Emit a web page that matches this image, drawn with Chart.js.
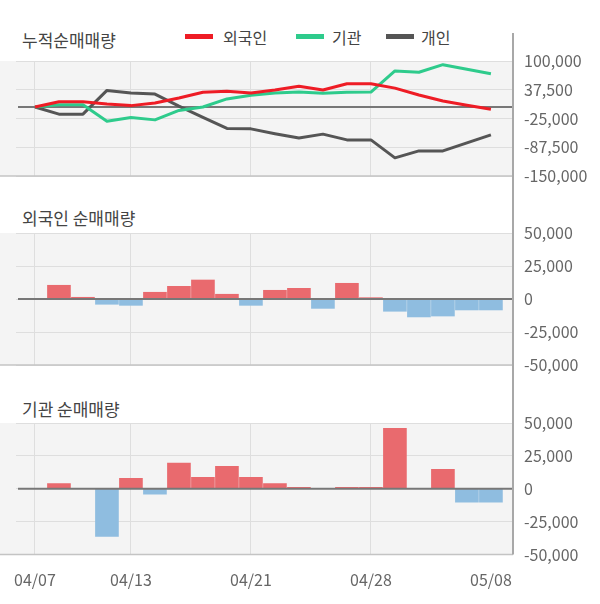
<!DOCTYPE html>
<html>
<head>
<meta charset="utf-8">
<script src="https://cdn.jsdelivr.net/npm/chart.js@4"></script>
<style>
    body { margin: 0; width: 600px; height: 604px; background: #fff; position: relative; overflow: hidden; font-family: "Noto Sans CJK KR", sans-serif; }
    canvas { position: absolute; left: 0; }
    .title { position: absolute; left: 22px; font-size: 17px; line-height: 20px; color: #444; white-space: nowrap; }
    .lg-text { position: absolute; top: 27px; font-size: 16px; line-height: 20px; color: #444; white-space: nowrap; }
    .lg-swatch { position: absolute; top: 34px; width: 28px; height: 5px; }
</style>
</head>
<body>
<div class="title" style="top:30px">누적순매매량</div>
<div class="lg-swatch" style="left:185px;background:#ee1c25"></div>
<div class="lg-text" style="left:223px">외국인</div>
<div class="lg-swatch" style="left:296px;background:#2ecb8c"></div>
<div class="lg-text" style="left:332px">기관</div>
<div class="lg-swatch" style="left:386px;background:#555555"></div>
<div class="lg-text" style="left:421px">개인</div>
<div class="title" style="top:208px">외국인 순매매량</div>
<div class="title" style="top:399px">기관 순매매량</div>

<canvas id="cumChart" width="600" height="200" style="top:0"></canvas>
<canvas id="foreignChart" width="600" height="190" style="top:200px"></canvas>
<canvas id="instChart" width="600" height="214" style="top:390px"></canvas>

<script>
const dates = ['04/07', '04/08', '04/09', '04/10', '04/13', '04/14', '04/16', '04/17', '04/20', '04/21',
               '04/22', '04/23', '04/24', '04/27', '04/28', '04/29', '05/04', '05/06', '05/07', '05/08'];
const tickIdx = [0, 4, 9, 14, 19];

// 누적 순매매량
const cumForeign = [0, 11500, 11500, 6500, 3000, 8500, 19500, 32000, 34500, 30500, 37000, 45000, 37000, 50500, 50500, 41000, 26000, 13000, 4000, -5000];
const cumInst = [0, 5000, 5000, -31000, -23000, -28000, -7500, 0, 17500, 25500, 30500, 32500, 30000, 32000, 32500, 78500, 75500, 92000, 82000, 72500];
const cumIndiv = [0, -15500, -15500, 36000, 30500, 28000, 2000, -22500, -46500, -47500, -58000, -67500, -59000, -71500, -71500, -110500, -95500, -95500, -78000, -60500];

// 일별 순매매량
const netForeign = [null, 10400, 1300, -4000, -4800, 5100, 9600, 14400, 3600, -4800, 6600, 8100, -7100, 11900, 1000, -9300, -13600, -12900, -8300, -8300];
const netInst = [null, 4000, 0, -36200, 7900, -4100, 19500, 8600, 17000, 8600, 4000, 1000, 0, 1000, 1000, 46000, 0, 14700, -10200, -10200];

const cumTicks = [100000, 37500, -25000, -87500, -150000];
const netTicks = [50000, 25000, 0, -25000, -50000];

const fuente = { family: '"Noto Sans CJK KR", sans-serif', size: 16 };

function puntos(arr) {
    return arr.map((v, i) => ({ x: i, y: v })).filter(p => p.y !== null);
}

// fondo, linea cero, borde inferior y eje derecho
const panelDeco = {
    id: 'panelDeco',
    beforeDraw(chart) {
        const { ctx, chartArea: a } = chart;
        ctx.save();
        ctx.fillStyle = '#f4f4f4';
        ctx.fillRect(0, a.top, a.right, a.bottom - a.top);
        ctx.restore();
    },
    beforeDatasetsDraw(chart, args, opts) {
        if (!opts.zeroOnTop) dibujarCero(chart);
    },
    afterDatasetsDraw(chart, args, opts) {
        if (opts.zeroOnTop) dibujarCero(chart);
        const { ctx, chartArea: a } = chart;
        ctx.save();
        ctx.strokeStyle = '#c4c4c4';
        ctx.lineWidth = 1.5;
        ctx.beginPath();
        ctx.moveTo(0, a.bottom);
        ctx.lineTo(a.right, a.bottom);
        ctx.stroke();
        ctx.strokeStyle = '#a8a8a8';
        ctx.lineWidth = 2;
        ctx.beginPath();
        ctx.moveTo(a.right, opts.lineTop);
        ctx.lineTo(a.right, opts.toArea ? a.bottom : chart.height);
        ctx.stroke();
        ctx.restore();
    }
};

function dibujarCero(chart) {
    const { ctx, chartArea: a, scales } = chart;
    const y0 = scales.y.getPixelForValue(0);
    ctx.save();
    ctx.strokeStyle = '#777';
    ctx.lineWidth = 2;
    ctx.beginPath();
    ctx.moveTo(a.left + 2, y0);
    ctx.lineTo(a.right, y0);
    ctx.stroke();
    ctx.restore();
}

function escalas(yMin, yMax, yTicks, showX) {
    return {
        x: {
            type: 'linear', min: -0.79, max: 19.92, offset: false,
            afterBuildTicks: s => { s.ticks = tickIdx.map(v => ({ value: v })); },
            afterFit: s => { s.paddingLeft = 0; s.paddingRight = 0; s.height = showX ? 49.5 : 0; },
            grid: { offset: false, color: c => (c.tick && c.tick.value === 19) ? 'rgba(0,0,0,0)' : '#dedede', drawTicks: false },
            border: { display: false },
            ticks: { display: showX, autoSkip: false, maxRotation: 0, padding: 16, color: '#666', font: fuente, callback: v => dates[v] }
        },
        y: {
            position: 'right', min: yMin, max: yMax,
            afterBuildTicks: s => { s.ticks = yTicks.map(v => ({ value: v })); },
            afterFit: s => { s.width = 87; s.paddingTop = 0; s.paddingBottom = 0; },
            grid: { color: '#dedede', drawTicks: false },
            border: { display: false },
            ticks: { padding: 11, color: '#666', font: fuente, callback: v => v.toLocaleString('en-US') }
        }
    };
}

function linea(label, data, color) {
    return { label: label, data: puntos(data), borderColor: color, borderWidth: 3, pointRadius: 0, tension: 0, borderJoinStyle: 'round', fill: false };
}

function barras(label, data) {
    return {
        label: label,
        data: puntos(data),
        barThickness: 23,
        backgroundColor: c => (c.raw && c.raw.y < 0) ? '#8fbde0' : '#e96a6e'
    };
}

const comunes = { responsive: false, animation: false, devicePixelRatio: 1 };

new Chart(document.getElementById('cumChart'), {
    type: 'line',
    data: { datasets: [linea('외국인', cumForeign, '#ee1c25'), linea('기관', cumInst, '#2ecb8c'), linea('개인', cumIndiv, '#555555')] },
    options: Object.assign({}, comunes, {
        layout: { padding: { top: 61, bottom: 24, left: 16, right: 0 } },
        scales: escalas(-150000, 100000, cumTicks, false),
        plugins: { legend: { display: false }, tooltip: { enabled: false }, panelDeco: { lineTop: 33, zeroOnTop: false } }
    }),
    plugins: [panelDeco]
});

new Chart(document.getElementById('foreignChart'), {
    type: 'bar',
    data: { datasets: [barras('외국인 순매매량', netForeign)] },
    options: Object.assign({}, comunes, {
        layout: { padding: { top: 33, bottom: 25, left: 16, right: 0 } },
        scales: escalas(-50000, 50000, netTicks, false),
        plugins: { legend: { display: false }, tooltip: { enabled: false }, panelDeco: { lineTop: 0, zeroOnTop: true } }
    }),
    plugins: [panelDeco]
});

new Chart(document.getElementById('instChart'), {
    type: 'bar',
    data: { datasets: [barras('기관 순매매량', netInst)] },
    options: Object.assign({}, comunes, {
        layout: { padding: { top: 33, bottom: 0, left: 16, right: 0 } },
        scales: escalas(-50000, 50000, netTicks, true),
        plugins: { legend: { display: false }, tooltip: { enabled: false }, panelDeco: { lineTop: 0, zeroOnTop: true, toArea: true } }
    }),
    plugins: [panelDeco]
});
</script>
</body>
</html>
